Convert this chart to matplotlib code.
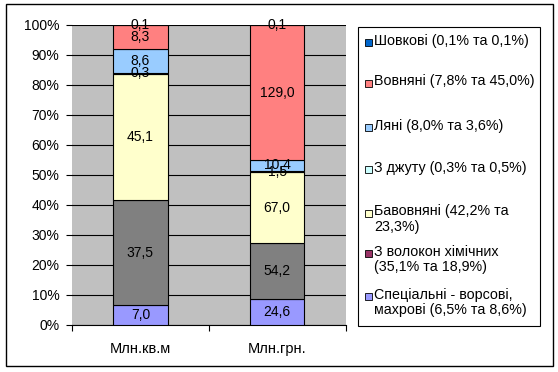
import numpy as np
import matplotlib
matplotlib.use("Agg")
import matplotlib.pyplot as plt
from matplotlib.patches import Rectangle

plt.rcParams["font.family"] = ["Liberation Sans", "DejaVu Sans"]

# Data
categories = ["Млн.кв.м", "Млн.грн."]
series_names = [
    "Спеціальні - ворсові,\nмахрові (6,5% та 8,6%)",
    "З волокон хімічних\n(35,1% та 18,9%)",
    "Бавовняні (42,2% та\n23,3%)",
    "З джуту (0,3% та 0,5%)",
    "Ляні (8,0% та 3,6%)",
    "Вовняні (7,8% та 45,0%)",
    "Шовкові (0,1% та 0,1%)",
]
special = [7.0, 24.6]
chemical = [37.5, 54.2]
cotton = [45.1, 67.0]
jute = [0.3, 1.5]
linen = [8.6, 10.4]
wool = [8.3, 129.0]
silk = [0.1, 0.1]

bar_colors = ["#9999FF", "#808080", "#FFFFCC", "#CCFFFF", "#99CCFF", "#FF8080", "#0066CC"]
legend_colors = ["#9999FF", "#993366", "#FFFFCC", "#CCFFFF", "#99CCFF", "#FF8080", "#0066CC"]

values = np.array([special, chemical, cotton, jute, linen, wool, silk])
totals = values.sum(axis=0)
pct = values / totals * 100

W, H = 558, 372
fig = plt.figure(figsize=(W / 100, H / 100), dpi=100)
ax = fig.add_axes([72 / W, 1 - 325 / H, (345.5 - 72) / W, 300 / H])
ax.set_facecolor("#C0C0C0")

x = np.arange(len(categories))
bottom = np.zeros(len(categories))
for i in range(len(values)):
    bars = ax.bar(x, pct[i], 0.4, bottom=bottom, color=bar_colors[i],
                  edgecolor="black", linewidth=0.8, zorder=3)
    labels = [f"{v:.1f}".replace(".", ",") for v in values[i]]
    ax.bar_label(bars, labels=labels, label_type="center", fontsize=10, zorder=4)
    bottom += pct[i]

ax.set_xlim(-0.5, 1.5)
ax.set_ylim(0, 100)
ax.set_yticks(np.arange(0, 101, 10))
ax.set_yticklabels([f"{t}%" for t in range(0, 101, 10)], fontsize=10)
ax.yaxis.grid(True, color="black", linewidth=0.8, zorder=0)
ax.set_axisbelow(True)
ax.set_xticks([-0.5, 0.5, 1.5])
ax.set_xticklabels([])
ax.set_xticks(x, minor=True)
ax.set_xticklabels(categories, minor=True, fontsize=10.5)
ax.tick_params(axis="x", which="minor", length=0, pad=12)
ax.tick_params(axis="x", which="major", length=4, width=0.8)
ax.tick_params(axis="y", length=4, width=0.8, pad=5)
for s in ["top", "right", "left"]:
    ax.spines[s].set_visible(False)
ax.spines["bottom"].set_linewidth(0.8)

# Legend (drawn by hand to match the uneven spacing)
fig.patches.append(Rectangle((358 / W, 1 - 326 / H), (540 - 358) / W, (326 - 27) / H,
                             transform=fig.transFigure, fill=False, edgecolor="black",
                             linewidth=0.8))
legend_y = [296, 253, 213, 170, 127, 83, 42]
for name, col, yy in zip(series_names, legend_colors, legend_y):
    fig.patches.append(Rectangle((365 / W, 1 - (yy + 3.5) / H), 7 / W, 7 / H,
                                 transform=fig.transFigure, facecolor=col,
                                 edgecolor="black", linewidth=0.6))
    fig.text(374 / W, 1 - (yy - 8.5) / H, name, fontsize=10.3, va="top", ha="left",
             linespacing=1.1)

# Outer chart border
fig.patches.append(Rectangle((6 / W, 1 - 366 / H), (553 - 6) / W, (366 - 4) / H,
                             transform=fig.transFigure, fill=False, edgecolor="black",
                             linewidth=1))

fig.savefig("out.png", dpi=100)
